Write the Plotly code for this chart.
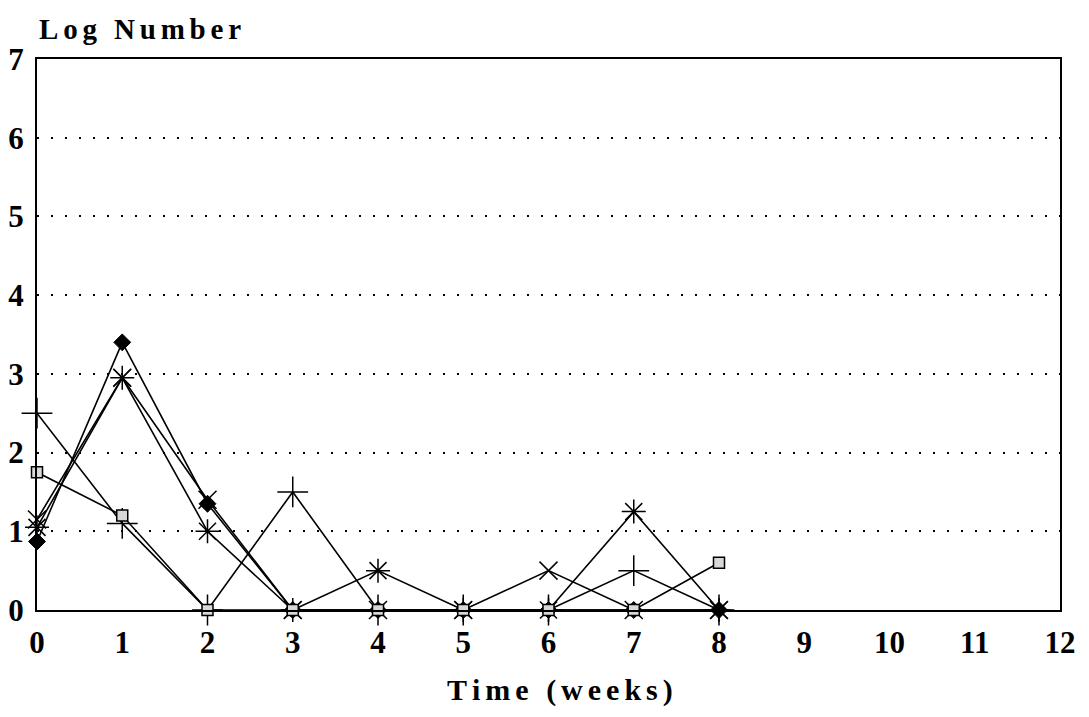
import plotly.graph_objects as go

weeks = [0, 1, 2, 3, 4, 5, 6, 7, 8]
diamond_vals = [0.87, 3.4, 1.35, 0, 0, 0, 0, 0, 0]
star_vals = [1.05, 2.95, 1.0, 0, 0.5, 0, 0, 1.25, 0]
x_vals = [1.15, 2.95, 1.4, 0, 0, 0, 0.5, 0, 0]
plus_vals = [2.5, 1.1, 0, 1.5, 0, 0, 0, 0.5, 0]
square_vals = [1.75, 1.2, 0, 0, 0, 0, 0, 0, 0.6]

x_ticks = list(range(0, 13))
y_ticks = list(range(0, 8))

x_title = "Time (weeks)"
y_title = "Log Number"

FONT = "Liberation Serif"
SIXTH = "\u2006"


def spaced(s):
    return SIXTH.join(list(s))


series = [
    ("diamond", diamond_vals, dict(symbol="diamond", size=13, color="black", line=dict(color="black", width=1))),
    ("asterisk", star_vals, dict(symbol="asterisk-open", size=20, color="black", line=dict(color="black", width=1.5))),
    ("x", x_vals, dict(symbol="x-thin-open", size=18, color="black", line=dict(color="black", width=1.5))),
    ("plus", plus_vals, dict(symbol="cross-thin-open", size=22, color="black", line=dict(color="black", width=1.5))),
    ("square", square_vals, dict(symbol="square", size=11, color="#d8d8d8", line=dict(color="black", width=1.5))),
]

fig = go.Figure()
for name, vals, mk in series:
    fig.add_trace(go.Scatter(x=weeks, y=vals, mode="lines+markers", name=name,
                             line=dict(color="black", width=1.6), marker=mk,
                             cliponaxis=False))

fig.update_layout(
    width=1089, height=717,
    margin=dict(l=37, r=29, t=59, b=107),
    paper_bgcolor="white", plot_bgcolor="white",
    showlegend=False,
    font=dict(family=FONT, color="black"),
    xaxis=dict(range=[0, 12], tickvals=x_ticks, ticktext=[str(v) for v in x_ticks],
               showgrid=False, zeroline=False, showline=True, linecolor="black",
               linewidth=2, mirror=True, ticks="", ticklabelstandoff=4, automargin=False,
               tickfont=dict(family=FONT, size=31, color="black", weight="bold")),
    yaxis=dict(range=[0, 7], tickvals=y_ticks, ticktext=[str(v) for v in y_ticks],
               showgrid=True, gridcolor="black", gridwidth=2, griddash="2px,12px",
               zeroline=False, showline=True, linecolor="black", linewidth=2, mirror=True,
               ticks="", ticklabelstandoff=5, automargin=False,
               tickfont=dict(family=FONT, size=31, color="black", weight="bold")),
    annotations=[
        dict(text="<b>" + spaced(y_title) + "</b>", xref="paper", yref="paper",
             x=0.0, y=1.0, xanchor="left", yanchor="bottom", xshift=0, yshift=12,
             showarrow=False, font=dict(family=FONT, size=29, color="black")),
        dict(text="<b>" + spaced(x_title) + "</b>", xref="paper", yref="paper",
             x=0.5, y=0.0, xanchor="center", yanchor="middle", xshift=11, yshift=-80,
             showarrow=False, font=dict(family=FONT, size=30, color="black")),
    ],
)

fig.write_html("out.html")
